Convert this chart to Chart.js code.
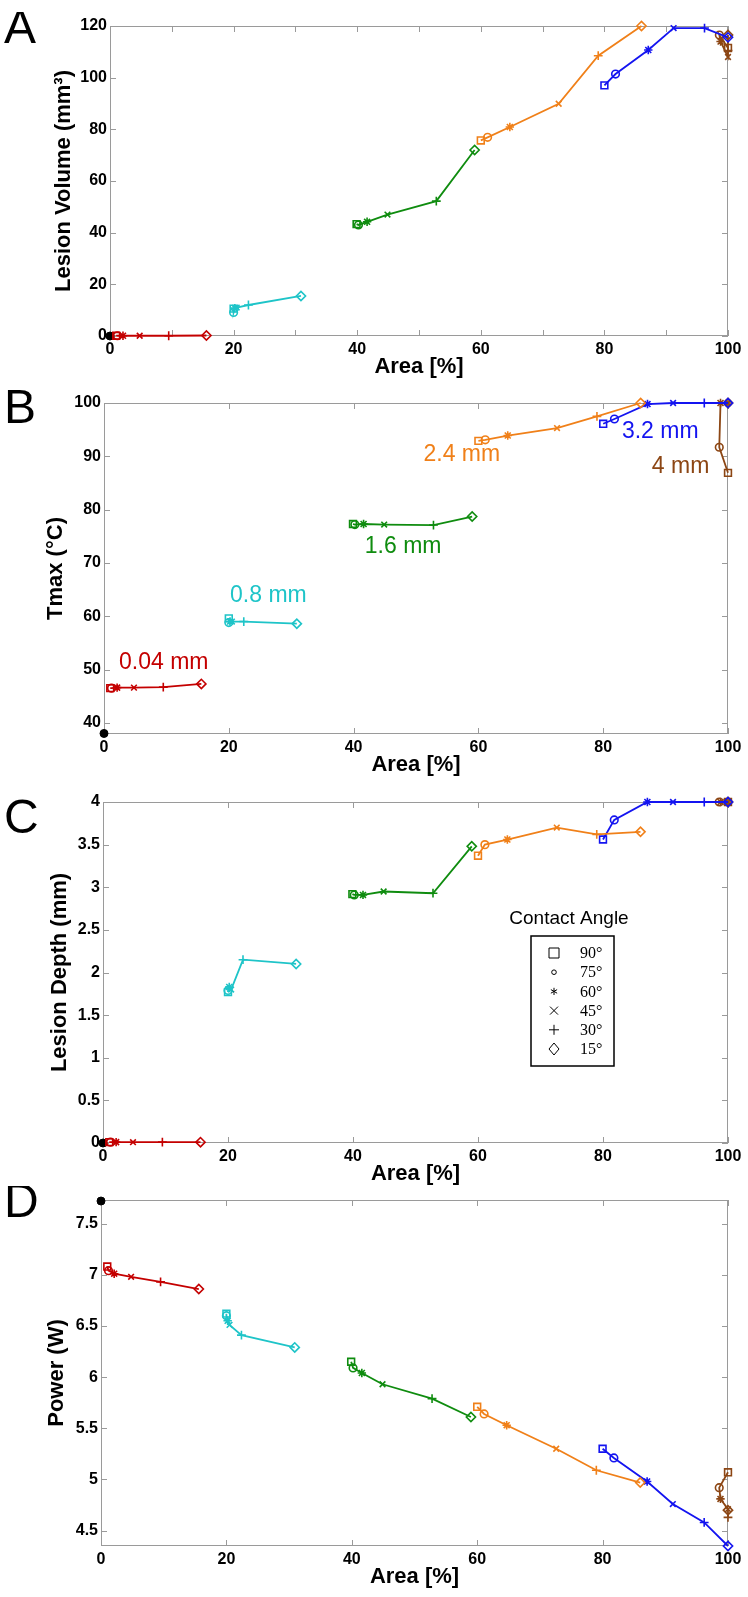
<!DOCTYPE html>
<html lang="en">
<head>
<meta charset="UTF-8">
<title>Lesion size, Tmax and power vs contact area</title>
<script src="https://cdn.jsdelivr.net/npm/chart.js"></script>
<style>
    body { margin: 0; background: #fff; }
    #figure { position: relative; width: 748px; height: 1597px; }
    .panel { position: absolute; left: 0; }
</style>
</head>
<body>
<div id="figure"></div>
<script>
// series = electrode thickness, marker = contact angle
const thicknesses = ['0.04 mm', '0.8 mm', '1.6 mm', '2.4 mm', '3.2 mm', '4 mm'];
const contactAngles = ['90°', '75°', '60°', '45°', '30°', '15°'];

// Area [%] per thickness, one value per contact angle (90..15)
const areaPct = [
    [1.0, 1.2, 2.1, 4.8, 9.5, 15.6],
    [20.0, 20.0, 20.2, 20.5, 22.4, 30.9],
    [39.9, 40.2, 41.6, 44.9, 52.8, 59.0],
    [60.0, 61.1, 64.7, 72.6, 79.0, 86.0],
    [80.0, 81.8, 87.1, 91.2, 96.2, 100],
    [100, 98.6, 98.8, 100, 100, 100]
];

// A: lesion volume (mm3)
const lesionVolume = [
    [0.1, 0.1, 0.1, 0.1, 0.1, 0.2],
    [10.6, 9.1, 10.8, 11.0, 12.0, 15.5],
    [43.3, 43.0, 44.2, 47.0, 52.2, 72.0],
    [75.7, 76.9, 80.9, 89.9, 108.5, 120.0],
    [97.0, 101.4, 110.7, 119.2, 119.2, 115.6],
    [111.5, 116.5, 114.0, 108.0, 110.5, 116.5]
];
// B: Tmax (degC)
const tmax = [
    [46.5, 46.5, 46.6, 46.6, 46.7, 47.3],
    [59.6, 58.8, 59.0, 59.0, 59.0, 58.6],
    [77.3, 77.2, 77.3, 77.2, 77.1, 78.7],
    [92.9, 93.1, 93.9, 95.3, 97.5, 100.0],
    [96.1, 97.0, 99.8, 100.0, 100.0, 100.0],
    [86.9, 91.7, 100.0, 100.0, 100.0, 100.0]
];
// C: lesion depth (mm)
const lesionDepth = [
    [0.01, 0.01, 0.01, 0.01, 0.01, 0.01],
    [1.77, 1.79, 1.83, 1.80, 2.15, 2.10],
    [2.92, 2.91, 2.91, 2.95, 2.93, 3.48],
    [3.37, 3.50, 3.56, 3.70, 3.62, 3.65],
    [3.56, 3.79, 4.0, 4.0, 4.0, 4.0],
    [4.0, 4.0, 4.0, 4.0, 4.0, 4.0]
];
// D: power (W)
const power = [
    [7.08, 7.04, 7.01, 6.98, 6.93, 6.86],
    [6.62, 6.60, 6.55, 6.51, 6.41, 6.29],
    [6.15, 6.09, 6.04, 5.93, 5.79, 5.61],
    [5.71, 5.64, 5.53, 5.30, 5.09, 4.97],
    [5.30, 5.21, 4.98, 4.76, 4.58, 4.35],
    [5.07, 4.92, 4.81, 4.71, 4.63, 4.70]
];

// black reference point at 0 % area
const controlArea = 0;
const controlValues = [0, 38, 0, 7.72];

// tick labels
const xTicksA = [0, 10, 20, 30, 40, 50, 60, 70, 80, 90, 100];
const xTicks = [0, 20, 40, 60, 80, 100];
const yTicksA = [0, 20, 40, 60, 80, 100, 120];
const yTicksB = [40, 50, 60, 70, 80, 90, 100];
const yTicksC = [0, 0.5, 1, 1.5, 2, 2.5, 3, 3.5, 4];
const yTicksD = [4.5, 5, 5.5, 6, 6.5, 7, 7.5];

// styling
const seriesColors = ['#c40000', '#1ec4c8', '#0f8c0f', '#f08019', '#1414f0', '#8c4614'];
const markerStyles = ['rect', 'circle', 'star', 'crossRot', 'cross', 'rectRot'];
const markerRadius = [4.8, 3.8, 4.2, 4, 4.4, 4.6];
const axisGrey = '#9a9a9a';
const sans = "'Liberation Sans', Arial, sans-serif";
const PAD_TOP = 14, X_AXIS_H = 44, PAGE_RIGHT = 728;

Chart.defaults.color = '#000';
Chart.defaults.font.family = sans;

const panels = [
    { letter: 'A', values: lesionVolume, yTitle: 'Lesion Volume (mm³)', yTicks: yTicksA, xTicks: xTicksA,
      yMin: 0, yMax: 120, left: 110, top: 26, bottom: 336, titleX: 64, letterBase: 43 },
    { letter: 'B', values: tmax, yTitle: 'Tmax (°C)', yTicks: yTicksB, xTicks: xTicks,
      yMin: 37.9, yMax: 100, left: 104, top: 403, bottom: 734, titleX: 56, letterBase: 423,
      labels: { x: [2.4, 20.2, 41.8, 51.2, 83.0, 87.8], y: [51.2, 63.8, 73.1, 90.3, 94.7, 88.1] } },
    { letter: 'C', values: lesionDepth, yTitle: 'Lesion Depth (mm)', yTicks: yTicksC, xTicks: xTicks,
      yMin: 0, yMax: 4, left: 103, top: 802, bottom: 1143, titleX: 60, letterBase: 833, legend: true },
    { letter: 'D', values: power, yTitle: 'Power (W)', yTicks: yTicksD, xTicks: xTicks,
      yMin: 4.35, yMax: 7.73, left: 101, top: 1200, bottom: 1546, titleX: 57, letterBase: 1217 }
];

// draws a black legend marker (MATLAB-like)
function drawMarker(ctx, style, x, y) {
    ctx.beginPath();
    if (style === 'rect') {
        ctx.rect(x - 5, y - 5, 10, 10);
    } else if (style === 'circle') {
        ctx.arc(x, y, 2.3, 0, Math.PI * 2);
    } else if (style === 'star') {
        for (let k = 0; k < 3; k++) {
            const a = Math.PI / 2 + k * Math.PI / 3;
            ctx.moveTo(x - 3.6 * Math.cos(a), y - 3.6 * Math.sin(a));
            ctx.lineTo(x + 3.6 * Math.cos(a), y + 3.6 * Math.sin(a));
        }
    } else if (style === 'crossRot') {
        ctx.moveTo(x - 4, y - 4); ctx.lineTo(x + 4, y + 4);
        ctx.moveTo(x - 4, y + 4); ctx.lineTo(x + 4, y - 4);
    } else if (style === 'cross') {
        ctx.moveTo(x - 5, y); ctx.lineTo(x + 5, y);
        ctx.moveTo(x, y - 5); ctx.lineTo(x, y + 5);
    } else if (style === 'rectRot') {
        ctx.moveTo(x, y - 6); ctx.lineTo(x + 5, y);
        ctx.lineTo(x, y + 6); ctx.lineTo(x - 5, y); ctx.closePath();
    }
    ctx.stroke();
}

// box with inward ticks, panel letter, thickness labels, legend
const decorPlugin = {
    id: 'decor',
    beforeDatasetsDraw(chart) {
        const { ctx, chartArea: a, scales: { x, y } } = chart;
        ctx.save();
        ctx.strokeStyle = axisGrey;
        ctx.lineWidth = 1;
        ctx.strokeRect(a.left + 0.5, a.top + 0.5, a.width - 1, a.height - 1);
        ctx.beginPath();
        x.ticks.forEach(t => {
            const px = Math.round(x.getPixelForValue(t.value)) + 0.5;
            ctx.moveTo(px, a.bottom); ctx.lineTo(px, a.bottom - 6);
            ctx.moveTo(px, a.top); ctx.lineTo(px, a.top + 6);
        });
        y.ticks.forEach(t => {
            const py = Math.round(y.getPixelForValue(t.value)) + 0.5;
            ctx.moveTo(a.left, py); ctx.lineTo(a.left + 6, py);
            ctx.moveTo(a.right, py); ctx.lineTo(a.right - 6, py);
        });
        ctx.stroke();
        ctx.restore();
    },
    afterDraw(chart, args, opts) {
        const { ctx, chartArea: a, scales: { x, y } } = chart;
        ctx.save();
        ctx.fillStyle = '#000';
        ctx.font = '48px ' + sans;
        ctx.textBaseline = 'alphabetic';
        ctx.fillText(opts.letter, 4, opts.letterBase - opts.canvasTop);

        if (opts.labels) {
            ctx.font = '23px ' + sans;
            ctx.textBaseline = 'middle';
            thicknesses.forEach((name, i) => {
                ctx.fillStyle = seriesColors[i];
                ctx.fillText(name, x.getPixelForValue(opts.labels.x[i]), y.getPixelForValue(opts.labels.y[i]));
            });
        }

        if (opts.legend) {
            const bx = a.left + 428, by = a.top + 134;
            ctx.fillStyle = '#000';
            ctx.font = '19px ' + sans;
            ctx.textAlign = 'center';
            ctx.textBaseline = 'middle';
            ctx.fillText('Contact Angle', a.left + 466, a.top + 117);
            ctx.strokeStyle = '#000';
            ctx.lineWidth = 1.5;
            ctx.strokeRect(bx, by, 83, 130);
            ctx.lineWidth = 1;
            ctx.textAlign = 'left';
            ctx.font = "16px 'Liberation Serif', 'DejaVu Serif', serif";
            contactAngles.forEach((ang, i) => {
                const ry = a.top + 151 + i * 19.2;
                drawMarker(ctx, markerStyles[i], a.left + 451, ry);
                ctx.fillText(ang, a.left + 477, ry + 1);
            });
        }
        ctx.restore();
    }
};

function buildDatasets(values, control) {
    const sets = thicknesses.map((name, i) => ({
        label: name,
        data: areaPct[i].map((ax, j) => ({ x: ax, y: values[i][j] })),
        showLine: true,
        borderColor: seriesColors[i],
        backgroundColor: seriesColors[i],
        borderWidth: 1.8,
        pointStyle: markerStyles,
        pointRadius: markerRadius,
        pointBorderWidth: 1.6,
        pointBorderColor: seriesColors[i],
        pointBackgroundColor: 'rgba(0,0,0,0)',
        clip: false
    }));
    sets.push({
        label: 'control',
        data: [{ x: controlArea, y: control }],
        showLine: false,
        pointStyle: 'circle',
        pointRadius: 4,
        pointBorderColor: '#000',
        pointBackgroundColor: '#000',
        clip: false
    });
    return sets;
}

const fmt = v => String(Math.round(v * 100) / 100);

panels.forEach((p, idx) => {
    const canvasTop = p.top - PAD_TOP;
    const height = p.bottom - p.top + PAD_TOP + X_AXIS_H;
    const canvas = document.createElement('canvas');
    canvas.className = 'panel';
    canvas.width = 748;
    canvas.height = height;
    canvas.style.top = canvasTop + 'px';
    document.getElementById('figure').appendChild(canvas);

    new Chart(canvas, {
        type: 'scatter',
        data: { datasets: buildDatasets(p.values, controlValues[idx]) },
        options: {
            responsive: false,
            animation: false,
            events: [],
            layout: { padding: { top: PAD_TOP, right: 748 - PAGE_RIGHT, left: 0, bottom: 0 } },
            plugins: {
                legend: { display: false },
                tooltip: { enabled: false },
                decor: {
                    letter: p.letter, letterBase: p.letterBase, canvasTop: canvasTop,
                    labels: p.labels, legend: p.legend
                }
            },
            scales: {
                x: {
                    type: 'linear', min: 0, max: 100,
                    grid: { display: false, drawTicks: false },
                    border: { display: false },
                    afterBuildTicks: s => { s.ticks = p.xTicks.map(v => ({ value: v })); },
                    afterFit: s => { s.height = X_AXIS_H; },
                    ticks: {
                        padding: 4, maxRotation: 0, autoSkip: false,
                        font: { size: 16, weight: 'bold' },
                        callback: v => (v % 20 === 0 ? fmt(v) : '')
                    },
                    title: {
                        display: true, text: 'Area [%]', padding: 0,
                        font: { size: 22, weight: 'bold' }
                    }
                },
                y: {
                    type: 'linear', min: p.yMin, max: p.yMax,
                    grid: { display: false, drawTicks: false },
                    border: { display: false },
                    afterBuildTicks: s => { s.ticks = p.yTicks.map(v => ({ value: v })); },
                    afterFit: s => { s.width = p.left; },
                    ticks: {
                        padding: 3, autoSkip: false,
                        font: { size: 16, weight: 'bold' },
                        callback: v => fmt(v)
                    },
                    title: {
                        display: true, text: p.yTitle,
                        padding: { top: p.titleX - 13.2, bottom: 0 },
                        font: { size: 22, weight: 'bold' }
                    }
                }
            }
        },
        plugins: [decorPlugin]
    });
});
</script>
</body>
</html>
